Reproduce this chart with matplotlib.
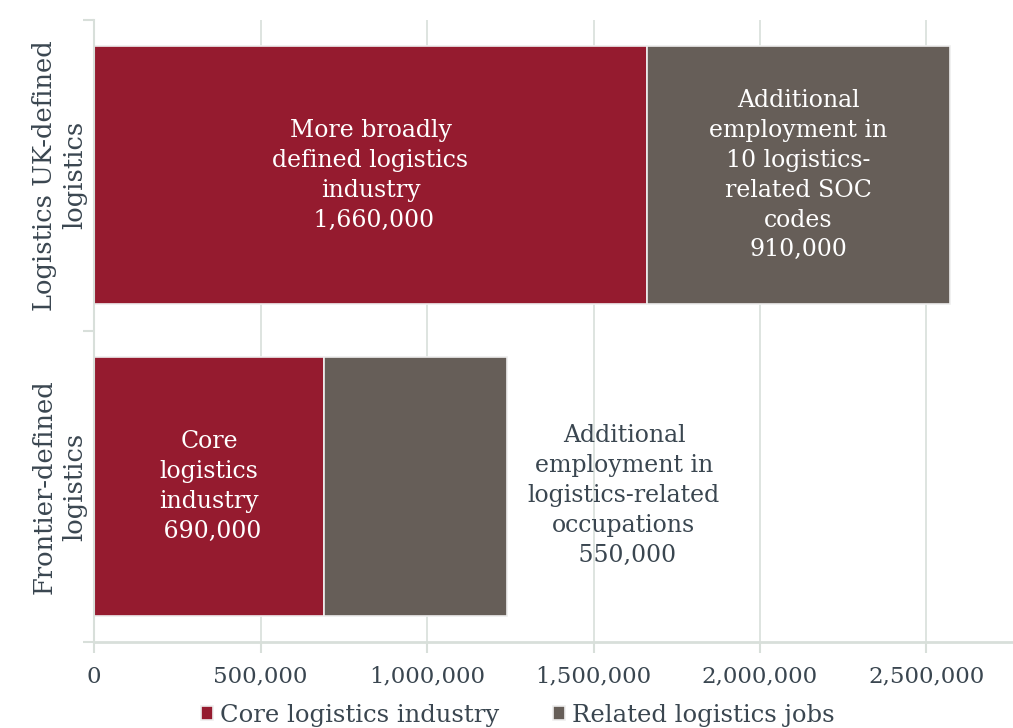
import matplotlib.pyplot as plt

plt.rcParams['font.family'] = ['DejaVu Serif']

categories = ["Frontier-defined\nlogistics", "Logistics UK-defined\nlogistics"]
core = [690000, 1660000]
related = [550000, 910000]
core_labels = ["Core\nlogistics\nindustry\n 690,000",
               "More broadly\ndefined logistics\nindustry\n 1,660,000"]
related_labels = ["Additional\nemployment in\nlogistics-related\noccupations\n 550,000",
                  "Additional\nemployment in\n10 logistics-\nrelated SOC\ncodes\n910,000"]
xticks = [0, 500000, 1000000, 1500000, 2000000, 2500000]

red = "#951b2f"
grey = "#665e58"
txt = "#3a4650"
line = "#d8dfda"

fig = plt.figure(figsize=(10.13, 7.28), dpi=100)
ax = fig.add_axes([0.093, 0.118, 0.907, 0.855])

y = range(len(categories))
ax.barh(y, core, height=0.83, color=red, edgecolor="#eeeeee", linewidth=1.2, zorder=2,
        label="Core logistics industry")
ax.barh(y, related, left=core, height=0.83, color=grey, edgecolor="#eeeeee", linewidth=1.2,
        zorder=2, label="Related logistics jobs")

# labels inside the bars, except the short related bar which gets its label beside it
for i in y:
    ax.text(core[i] / 2, i, core_labels[i], ha="center", va="center", color="white",
            fontsize=17, linespacing=1.38, zorder=3)
    if i == 1:
        ax.text(core[i] + related[i] / 2, i, related_labels[i], ha="center", va="center",
                color="white", fontsize=17, linespacing=1.38, zorder=3)
    else:
        ax.annotate(related_labels[i], xy=(core[i] + related[i], i), xytext=(117, -9),
                    textcoords="offset pixels", ha="center", va="center", color=txt,
                    fontsize=17, linespacing=1.38, zorder=3)

ax.set_xlim(0, 2760000)
ax.set_ylim(-0.5, 1.5)
ax.set_xticks(xticks)
ax.set_xticklabels([f"{v:,}" for v in xticks])
ax.set_yticks(list(y))
ax.set_yticklabels(categories, rotation=90, va="center", ha="center", fontsize=18.5,
                   linespacing=1.25)
ax.set_yticks([-0.5, 0.5, 1.5], minor=True)
ax.tick_params(axis="y", which="major", length=0, pad=25, colors=txt)
ax.tick_params(axis="y", which="minor", length=8, color=line, width=1.5)
ax.tick_params(axis="x", length=8, color=line, width=1.5, labelsize=16.5, labelcolor=txt, pad=9)

ax.grid(axis="x", color=line, linewidth=1.2, zorder=0)
for s in ["top", "right"]:
    ax.spines[s].set_visible(False)
ax.spines["left"].set_color(line)
ax.spines["left"].set_linewidth(1.5)
ax.spines["bottom"].set_color(line)
ax.spines["bottom"].set_linewidth(2)

ax.legend(loc="center", bbox_to_anchor=(0.461, -0.118), ncol=2, frameon=False,
          fontsize=17.5, handlelength=0.5, handleheight=0.5, handletextpad=0.3,
          columnspacing=2.2, labelcolor=txt)

fig.savefig("out.png", dpi=100)
